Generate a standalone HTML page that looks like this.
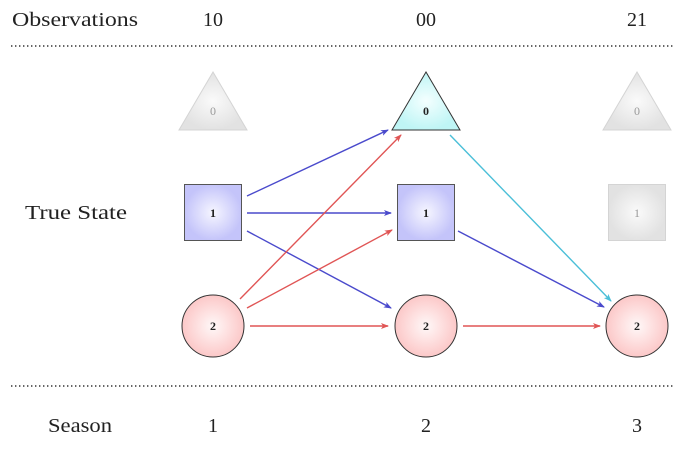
<!DOCTYPE html>
<html><head><meta charset="utf-8"><style>
html,body{margin:0;padding:0;background:#fff;}
svg{display:block;}
text{font-family:"Liberation Serif",serif;fill:#222;}
</style></head><body>
<svg width="686" height="457" viewBox="0 0 686 457" xmlns="http://www.w3.org/2000/svg">
<defs>
<radialGradient id="gg"><stop offset="0" stop-color="#fafafa"/><stop offset="1" stop-color="#e2e2e2"/></radialGradient>
<radialGradient id="gc"><stop offset="0" stop-color="#f4ffff"/><stop offset="1" stop-color="#bff5f5"/></radialGradient>
<radialGradient id="gb"><stop offset="0" stop-color="#f6f6ff"/><stop offset="1" stop-color="#c4c4fa"/></radialGradient>
<radialGradient id="gr"><stop offset="0" stop-color="#fff8f8"/><stop offset="1" stop-color="#fcc8c8"/></radialGradient>
<marker id="ab" markerWidth="8" markerHeight="6" refX="7" refY="3" orient="auto" markerUnits="userSpaceOnUse"><path d="M0,0 L8,3 L0,6 L2,3z" fill="#4a4acc"/></marker>
<marker id="ar" markerWidth="8" markerHeight="6" refX="7" refY="3" orient="auto" markerUnits="userSpaceOnUse"><path d="M0,0 L8,3 L0,6 L2,3z" fill="#e05555"/></marker>
<marker id="ac" markerWidth="8" markerHeight="6" refX="7" refY="3" orient="auto" markerUnits="userSpaceOnUse"><path d="M0,0 L8,3 L0,6 L2,3z" fill="#4bbfd8"/></marker>
</defs>
<text x="12" y="26" font-size="20" textLength="126" lengthAdjust="spacingAndGlyphs">Observations</text>
<text x="213" y="26" font-size="20" text-anchor="middle">10</text>
<text x="426" y="26" font-size="20" text-anchor="middle">00</text>
<text x="637" y="26" font-size="20" text-anchor="middle">21</text>
<line x1="11" y1="46" x2="673" y2="46" stroke="#333" stroke-width="1.4" stroke-dasharray="1.4 2.6"/>
<line x1="11" y1="386" x2="673" y2="386" stroke="#333" stroke-width="1.4" stroke-dasharray="1.4 2.6"/>
<text x="25" y="219" font-size="20" textLength="102" lengthAdjust="spacingAndGlyphs">True State</text>
<text x="48" y="432" font-size="20" textLength="64" lengthAdjust="spacingAndGlyphs">Season</text>
<text x="213" y="432" font-size="20" text-anchor="middle">1</text>
<text x="426" y="432" font-size="20" text-anchor="middle">2</text>
<text x="637" y="432" font-size="20" text-anchor="middle">3</text>

<polygon points="213,72 179,130 247,130" fill="url(#gg)" stroke="#d4d4d4" stroke-width="1"/>
<polygon points="426,72 392,130 460,130" fill="url(#gc)" stroke="#333" stroke-width="1"/>
<polygon points="637,72 603,130 671,130" fill="url(#gg)" stroke="#d4d4d4" stroke-width="1"/>
<rect x="184.5" y="184.5" width="57" height="56" fill="url(#gb)" stroke="#555" stroke-width="1"/>
<rect x="397.5" y="184.5" width="57" height="56" fill="url(#gb)" stroke="#555" stroke-width="1"/>
<rect x="608.5" y="184.5" width="57" height="56" fill="url(#gg)" stroke="#d4d4d4" stroke-width="1"/>
<circle cx="213" cy="326" r="31" fill="url(#gr)" stroke="#333" stroke-width="1"/>
<circle cx="426" cy="326" r="31" fill="url(#gr)" stroke="#333" stroke-width="1"/>
<circle cx="637" cy="326" r="31" fill="url(#gr)" stroke="#333" stroke-width="1"/>

<g font-size="12" text-anchor="middle">
<text x="213" y="115" style="fill:#999">0</text>
<text x="426" y="115" font-weight="bold">0</text>
<text x="637" y="115" style="fill:#999">0</text>
<text x="213" y="217" font-weight="bold">1</text>
<text x="426" y="217" font-weight="bold">1</text>
<text x="637" y="217" style="fill:#999">1</text>
<text x="213" y="330" font-weight="bold">2</text>
<text x="426" y="330" font-weight="bold">2</text>
<text x="637" y="330" font-weight="bold">2</text>
</g>

<g fill="none" stroke-width="1.4">
<line x1="247" y1="196" x2="388" y2="130" stroke="#4a4acc" marker-end="url(#ab)"/>
<line x1="247" y1="213" x2="391" y2="213" stroke="#4a4acc" marker-end="url(#ab)"/>
<line x1="247" y1="231" x2="391" y2="308" stroke="#4a4acc" marker-end="url(#ab)"/>
<line x1="240" y1="299" x2="401" y2="135" stroke="#e05555" marker-end="url(#ar)"/>
<line x1="247" y1="308" x2="392" y2="230" stroke="#e05555" marker-end="url(#ar)"/>
<line x1="250" y1="326" x2="388" y2="326" stroke="#e05555" marker-end="url(#ar)"/>
<line x1="450" y1="135" x2="611" y2="301" stroke="#4bbfd8" marker-end="url(#ac)"/>
<line x1="458" y1="231" x2="604" y2="307" stroke="#4a4acc" marker-end="url(#ab)"/>
<line x1="463" y1="326" x2="600" y2="326" stroke="#e05555" marker-end="url(#ar)"/>
</g>
</svg>
</body></html>
